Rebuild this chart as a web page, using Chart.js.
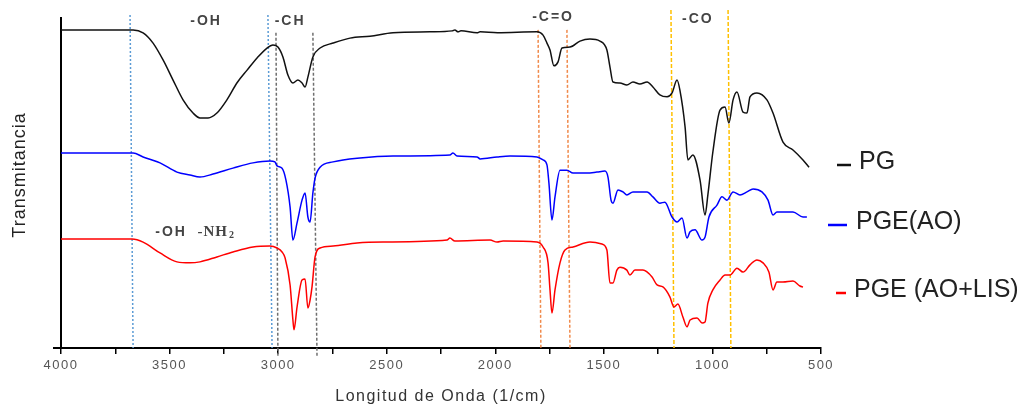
<!DOCTYPE html>
<html><head><meta charset="utf-8">
<script src="https://cdn.jsdelivr.net/npm/chart.js@4/dist/chart.umd.min.js"></script>
<style>html,body{margin:0;padding:0;background:#fff}#wrap{width:1032px;height:408px;position:relative}</style>
</head><body><div id="wrap"><canvas id="c"></canvas></div>
<script>
// ---------- data ----------
const seriesNames = ['PG', 'PGE(AO)', 'PGE (AO+LIS)'];

const pgWave = [4000,3682,3668,3622,3576,3530,3484,3438,3392,3360,3323,3282,3236,3190,3143,3097,3051,3024,3001,2978,2955,2932,2909,2890,2876,2863,2840,2807,2747,2669,2577,2471,2301,2198,2186,2172,2158,2084,2070,1990,1808,1780,1762,1748,1730,1711,1693,1656,1610,1564,1518,1486,1472,1458,1426,1394,1366,1334,1301,1274,1242,1209,1186,1163,1150,1126,1113,1090,1057,1034,1021,998,965,942,924,905,887,859,841,827,795,749,721,675,629,583,555];
const pgT = [96.4,96.4,96.4,95.5,92.4,87.3,81.2,75.2,71.2,69.7,69.7,71.2,75.2,80.3,84.2,87.9,90.9,91.8,91.2,88.2,82.7,80.3,81.2,80.3,79.1,82.1,88.2,90.9,92.4,93.9,94.5,95.5,95.8,96.1,96.4,95.8,96.1,95.5,95.8,95.5,95.8,94.8,92.4,90.3,85.5,86.7,90.9,91.2,93.0,93.6,93.0,90.3,85.2,80.6,80.3,79.7,80.6,80.0,80.6,79.1,76.7,76.1,77.3,81.2,78.2,67.0,57.0,58.5,50.9,40.3,46.4,59.4,72.1,73.0,68.2,75.2,77.6,71.5,71.2,76.1,77.3,75.2,71.2,62.4,60.0,57.0,54.8];

const aoWave = [4000,3668,3622,3544,3466,3406,3360,3300,3208,3116,3038,3015,3005,2982,2964,2945,2932,2913,2890,2876,2863,2853,2840,2830,2807,2747,2623,2471,2209,2195,2176,2084,2070,1992,1932,1808,1780,1762,1753,1739,1725,1702,1670,1642,1578,1532,1495,1481,1467,1458,1435,1412,1394,1366,1301,1274,1242,1219,1186,1163,1140,1117,1103,1080,1048,1034,1016,979,956,933,905,873,841,813,772,744,721,703,675,629,583,565];
const aoT = [59.1,59.1,57.9,56.1,53.3,52.4,51.8,52.7,54.5,56.1,56.7,56.4,55.2,54.5,50.9,42.7,32.7,37.9,44.8,47.0,39.7,38.2,47.0,51.5,54.8,56.4,57.6,58.2,58.5,59.1,58.2,57.9,57.3,57.9,58.2,57.9,57.0,55.5,50.0,38.8,45.8,53.9,53.9,53.0,53.0,53.3,53.6,51.8,44.8,43.9,47.9,47.3,46.4,47.3,47.3,45.8,43.9,44.2,39.7,38.2,39.4,33.3,35.2,35.8,32.7,33.6,39.7,43.3,45.8,44.8,47.3,46.4,47.3,48.2,47.3,44.8,40.3,41.2,41.2,41.2,39.7,39.7];

const lisWave = [4000,3673,3622,3544,3466,3406,3360,3282,3208,3116,3038,3005,2982,2968,2945,2932,2927,2913,2890,2876,2863,2853,2844,2830,2807,2747,2637,2517,2222,2209,2186,2024,1992,1964,1808,1780,1757,1748,1739,1725,1702,1679,1642,1564,1509,1486,1472,1458,1440,1426,1394,1380,1357,1320,1278,1255,1228,1196,1177,1159,1136,1117,1103,1071,1048,1034,1021,998,965,942,919,887,859,827,795,767,740,721,703,675,629,597,583];
const lisT = [33.0,33.0,32.1,28.8,26.1,25.8,26.1,27.6,29.1,30.6,30.9,30.3,29.1,27.3,19.1,8.5,5.5,12.4,20.6,20.9,12.1,14.5,18.5,27.6,30.3,30.9,31.8,32.1,32.7,33.3,32.4,32.7,32.1,32.4,32.1,30.6,25.8,17.6,10.6,17.6,25.8,29.7,30.6,32.1,31.5,29.7,19.7,19.7,23.6,24.5,23.6,22.1,23.6,23.6,21.5,19.1,18.5,15.5,12.4,13.3,9.4,6.4,8.5,9.1,7.6,7.9,13.6,17.6,20.6,22.1,22.1,24.2,23.0,25.2,26.7,25.8,23.0,17.6,20.0,20.0,20.3,18.8,18.5];

// reference band marker lines (wavenumber at top and bottom, transmittance extent)
const bandTopWave    = [3682, 3047, 3010, 2840, 1803, 1670, 1191, 928];
const bandBottomWave = [3668, 3028, 3001, 2821, 1790, 1656, 1177, 915];
const bandTopT       = [100.9, 100.9, 95.5, 95.5, 96.4, 96.4, 102.4, 102.4];
const bandBottomT    = [0, 0, -2.7, -2.7, 0, 0, 0, 0];

// band group labels
const bandLabels = ['-OH', '-CH', '-C=O', '-CO', '-OH'];
const bandLabelWave = [3332, 2945, 1734, 1067, 3493];
const bandLabelT = [99.1, 99.1, 100.3, 99.7, 35.2];
const nhLabelWave = 3277;
const nhLabelT = 35.2;

const xTickValues = [4000, 3500, 3000, 2500, 2000, 1500, 1000, 500];

// ---------- styles ----------
const seriesColors = ['#111111', '#0000ff', '#ff0000'];
const bandColors = ['#5B9BD5', '#5B9BD5', '#6f6f6f', '#6f6f6f', '#F08A4B', '#F08A4B', '#FFC000', '#FFC000'];
const bandDash = [[2,2],[2,2],[3,2],[3,2],[3,2],[3,2],[4,2],[4,2]];

function pts(w, t) { return w.map((x, i) => ({x: x, y: t[i]})); }

const curveSets = [[pgWave, pgT], [aoWave, aoT], [lisWave, lisT]].map((s, i) => ({
  label: seriesNames[i],
  data: pts(s[0], s[1]),
  borderColor: seriesColors[i],
  borderWidth: 1.5,
  pointRadius: 0,
  fill: false,
  cubicInterpolationMode: 'monotone',
  clip: false,
  order: 0
}));

const bandSets = bandTopWave.map((w, i) => ({
  label: 'band' + i,
  data: [{x: w, y: bandTopT[i]}, {x: bandBottomWave[i], y: bandBottomT[i]}],
  borderColor: bandColors[i],
  borderWidth: 1.5,
  borderDash: bandDash[i],
  pointRadius: 0,
  fill: false,
  clip: false,
  order: 1
}));

const textPlugin = {
  id: 'textPlugin',
  beforeDraw(chart) {
    chart.ctx.letterSpacing = '1.5px';
  },
  afterDraw(chart) {
    const ctx = chart.ctx;
    const xs = chart.scales.x, ys = chart.scales.y;
    const ca = chart.chartArea;
    ctx.save();
    // x-axis line extension to the left
    ctx.strokeStyle = '#000';
    ctx.lineWidth = 2;
    ctx.beginPath();
    ctx.moveTo(ca.left - 8, ca.bottom);
    ctx.lineTo(ca.left, ca.bottom);
    ctx.stroke();

    // y title
    ctx.save();
    ctx.letterSpacing = '1px';
    ctx.translate(20, 175);
    ctx.rotate(-Math.PI / 2);
    ctx.fillStyle = '#222';
    ctx.font = '18px "Liberation Sans", Arial, sans-serif';
    ctx.textAlign = 'center';
    ctx.textBaseline = 'middle';
    ctx.fillText('Transmitancia', 0, 0);
    ctx.restore();

    // band labels
    ctx.letterSpacing = '2px';
    ctx.fillStyle = '#444';
    ctx.font = 'bold 14px "Liberation Sans", Arial, sans-serif';
    ctx.textAlign = 'center';
    ctx.textBaseline = 'middle';
    bandLabels.forEach((t, i) => {
      ctx.fillText(t, xs.getPixelForValue(bandLabelWave[i]), ys.getPixelForValue(bandLabelT[i]));
    });
    // -NH2 in serif
    ctx.letterSpacing = '1px';
    const nx = xs.getPixelForValue(nhLabelWave), ny = ys.getPixelForValue(nhLabelT);
    ctx.font = 'bold 15px "Liberation Serif", "Times New Roman", serif';
    ctx.textAlign = 'right';
    ctx.fillText('-NH', nx + 10, ny);
    ctx.font = 'bold 10px "Liberation Serif", "Times New Roman", serif';
    ctx.textAlign = 'left';
    ctx.fillText('2', nx + 11, ny + 4);

    // legend
    ctx.letterSpacing = '0px';
    ctx.font = '25px "Liberation Sans", Arial, sans-serif';
    ctx.textAlign = 'left';
    ctx.textBaseline = 'middle';
    const legY = [161, 221, 289];
    const dashX = [[837, 851], [828, 847], [836, 846]];
    const textX = [859, 856, 854];
    seriesNames.forEach((n, i) => {
      ctx.strokeStyle = seriesColors[i];
      ctx.lineWidth = 2.5;
      ctx.beginPath();
      ctx.moveTo(dashX[i][0], legY[i] + 4);
      ctx.lineTo(dashX[i][1], legY[i] + 4);
      ctx.stroke();
      ctx.fillStyle = '#222';
      ctx.fillText(n, textX[i], legY[i] + 1);
    });
    ctx.restore();
    ctx.letterSpacing = '0px';
  }
};

new Chart(document.getElementById('c'), {
  type: 'line',
  data: { datasets: [...bandSets, ...curveSets] },
  options: {
    responsive: true,
    maintainAspectRatio: false,
    animation: false,
    events: [],
    layout: { padding: { left: 61, right: 211, top: 18, bottom: 0 } },
    plugins: { legend: { display: false }, tooltip: { enabled: false } },
    scales: {
      x: {
        type: 'linear',
        reverse: true,
        min: 500,
        max: 4000,
        afterBuildTicks(s) {
          const t = [];
          for (let v = 500; v <= 4000; v += 250) t.push({value: v});
          s.ticks = t;
        },
        afterFit(s) { s.height = 60; },
        ticks: {
          autoSkip: false,
          maxRotation: 0,
          padding: 4,
          color: '#555',
          font: { size: 13, family: '"Liberation Sans", Arial, sans-serif' },
          callback: v => xTickValues.includes(v) ? String(v) : ''
        },
        grid: { display: true, drawOnChartArea: false, drawTicks: true, tickLength: 6, color: '#000', lineWidth: 1.5 },
        border: { display: true, color: '#000', width: 2 },
        title: {
          display: true,
          text: 'Longitud de Onda (1/cm)',
          color: '#333',
          font: { size: 16, family: '"Liberation Sans", Arial, sans-serif' },
          padding: { top: 0, bottom: 2 }
        }
      },
      y: {
        type: 'linear',
        min: 0,
        max: 100,
        afterFit(s) { s.width = 0; },
        ticks: { display: false },
        grid: { display: true, drawOnChartArea: false, drawTicks: false },
        border: { display: true, color: '#000', width: 2 },
        title: { display: false }
      }
    }
  },
  plugins: [textPlugin]
});
</script>
</body></html>
